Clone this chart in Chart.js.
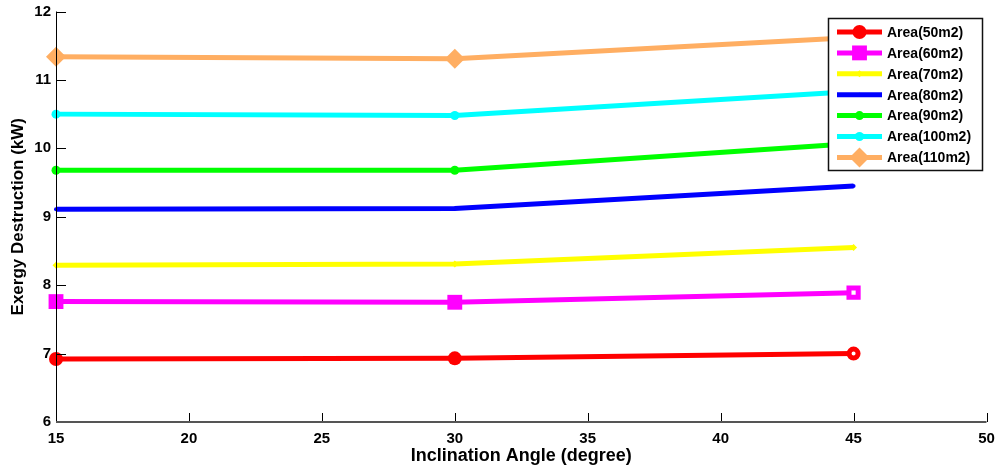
<!DOCTYPE html>
<html>
<head>
<meta charset="utf-8">
<script src="https://cdn.jsdelivr.net/npm/chart.js@4.4.1/dist/chart.umd.min.js"></script>
<style>
  html, body { margin: 0; padding: 0; background: #fff; }
  #wrap { width: 998px; height: 470px; position: relative; }
</style>
</head>
<body>
<div id="wrap"><canvas id="graph"></canvas></div>
<script>
// Exergy destruction vs inclination angle, one series per collector area
const angles = [15, 30, 45];
const area50 = [6.92, 6.93, 7.00];
const area60 = [7.76, 7.75, 7.89];
const area70 = [8.29, 8.31, 8.55];
const area80 = [9.11, 9.12, 9.45];
const area90 = [9.68, 9.68, 10.07];
const area100 = [10.50, 10.48, 10.83];
const area110 = [11.34, 11.31, 11.62];
const xTicks = [15, 20, 25, 30, 35, 40, 45, 50];
const yTicks = [6, 7, 8, 9, 10, 11, 12];

const FONT = "Arial, 'Liberation Sans', sans-serif";

function series(label, values, color, style, radius, hollow) {
    const ds = {
        label: label,
        data: angles.map((a, i) => ({ x: a, y: values[i] })),
        borderColor: color,
        backgroundColor: color,
        borderWidth: 5,
        tension: 0,
        clip: false,
        pointStyle: style,
        pointRadius: radius,
        pointBorderWidth: 0,
        pointBorderColor: color,
        pointBackgroundColor: color,
        legendRadius: radius
    };
    // last marker drawn as a ring with a small hole
    if (hollow) {
        ds.pointRadius = [radius, radius, hollow];
        ds.pointBorderWidth = [0, 0, 5];
        ds.pointBackgroundColor = [color, color, '#ffffff'];
    }
    return ds;
}

// Inward ticks like the original plot
const innerTicks = {
    id: 'innerTicks',
    afterDraw(chart) {
        const { ctx, chartArea: a, scales: { x, y } } = chart;
        ctx.save();
        ctx.strokeStyle = '#000';
        ctx.lineWidth = 1;
        ctx.beginPath();
        xTicks.forEach(v => {
            const px = Math.round(x.getPixelForValue(v)) + 0.5;
            ctx.moveTo(px, a.bottom);
            ctx.lineTo(px, a.bottom - 9);
        });
        yTicks.forEach(v => {
            const py = Math.round(y.getPixelForValue(v)) + 0.5;
            ctx.moveTo(a.left, py);
            ctx.lineTo(a.left + 10, py);
        });
        ctx.stroke();
        ctx.beginPath();
        ctx.moveTo(a.left + 0.5, a.top);
        ctx.lineTo(a.left + 0.5, a.bottom);
        ctx.stroke();
        ctx.strokeStyle = '#555';
        ctx.lineWidth = 2;
        ctx.beginPath();
        ctx.moveTo(a.left, a.bottom);
        ctx.lineTo(a.right, a.bottom);
        ctx.stroke();
        ctx.restore();
    }
};

function marker(ctx, style, r, x, y, color) {
    ctx.fillStyle = color;
    ctx.beginPath();
    if (style === 'circle') {
        ctx.arc(x, y, r, 0, Math.PI * 2);
    } else if (style === 'rect') {
        const s = r * Math.SQRT1_2;
        ctx.rect(x - s, y - s, 2 * s, 2 * s);
    } else {
        ctx.moveTo(x, y - r); ctx.lineTo(x + r, y);
        ctx.lineTo(x, y + r); ctx.lineTo(x - r, y);
        ctx.closePath();
    }
    ctx.fill();
}

// Legend box drawn inside the plot, top right
const boxLegend = {
    id: 'boxLegend',
    afterDraw(chart) {
        const ctx = chart.ctx;
        const left = 828, top = 18, w = 154, h = 152;
        ctx.save();
        ctx.fillStyle = '#fff';
        ctx.fillRect(left, top, w, h);
        ctx.strokeStyle = '#111';
        ctx.lineWidth = 1.5;
        ctx.strokeRect(left + 0.5, top + 0.5, w, h);
        ctx.font = "bold 14px " + FONT;
        ctx.textBaseline = 'middle';
        chart.data.datasets.forEach((ds, i) => {
            const yy = top + 14 + i * 20.9;
            ctx.strokeStyle = ds.borderColor;
            ctx.lineWidth = 5;
            ctx.beginPath();
            ctx.moveTo(837, yy);
            ctx.lineTo(882, yy);
            ctx.stroke();
            marker(ctx, ds.pointStyle, ds.legendRadius, 859.5, yy, ds.borderColor);
            ctx.fillStyle = '#000';
            ctx.fillText(ds.label, 887, yy + 1);
        });
        ctx.restore();
    }
};

new Chart(document.querySelector('#graph'), {
    type: 'line',
    data: {
        datasets: [
            series('Area(50m2)', area50, '#ff0000', 'circle', 7, 4.5),
            series('Area(60m2)', area60, '#ff00ff', 'rect', 10.5, 6.5),
            series('Area(70m2)', area70, '#ffff00', 'rectRot', 3.5, 0),
            series('Area(80m2)', area80, '#0000ff', 'circle', 2, 0),
            series('Area(90m2)', area90, '#00ff00', 'circle', 4.5, 0),
            series('Area(100m2)', area100, '#00ffff', 'circle', 4.5, 0),
            series('Area(110m2)', area110, '#ffae62', 'rectRot', 10, 0)
        ]
    },
    options: {
        responsive: true,
        maintainAspectRatio: false,
        animation: false,
        layout: { padding: { top: 11, right: 11, left: 0, bottom: 0 } },
        plugins: {
            legend: { display: false },
            tooltip: { enabled: false }
        },
        scales: {
            x: {
                type: 'linear',
                min: 15,
                max: 50,
                afterBuildTicks: s => { s.ticks = xTicks.map(v => ({ value: v })); },
                afterFit: s => { s.height = 48; s.paddingLeft = 0; s.paddingRight = 0; },
                grid: { display: false, drawTicks: false },
                border: { display: false },
                ticks: { color: '#000', padding: 8, maxRotation: 0, font: { family: FONT, size: 15, weight: 'bold' } },
                title: {
                    display: true,
                    text: 'Inclination Angle (degree)',
                    color: '#000',
                    padding: { top: 0, bottom: 3 },
                    font: { family: FONT, size: 18, weight: 'bold' }
                }
            },
            y: {
                min: 6,
                max: 12,
                afterBuildTicks: s => { s.ticks = yTicks.map(v => ({ value: v })); },
                afterFit: s => { s.width = 56; s.paddingTop = 0; s.paddingBottom = 0; },
                grid: { display: false, drawTicks: false },
                border: { display: false },
                ticks: { color: '#000', padding: 5, font: { family: FONT, size: 15, weight: 'bold' } },
                title: {
                    display: true,
                    text: 'Exergy Destruction (kW)',
                    color: '#000',
                    padding: { top: 8, bottom: 0 },
                    font: { family: FONT, size: 17, weight: 'bold' }
                }
            }
        }
    },
    plugins: [innerTicks, boxLegend]
});
</script>
</body>
</html>
